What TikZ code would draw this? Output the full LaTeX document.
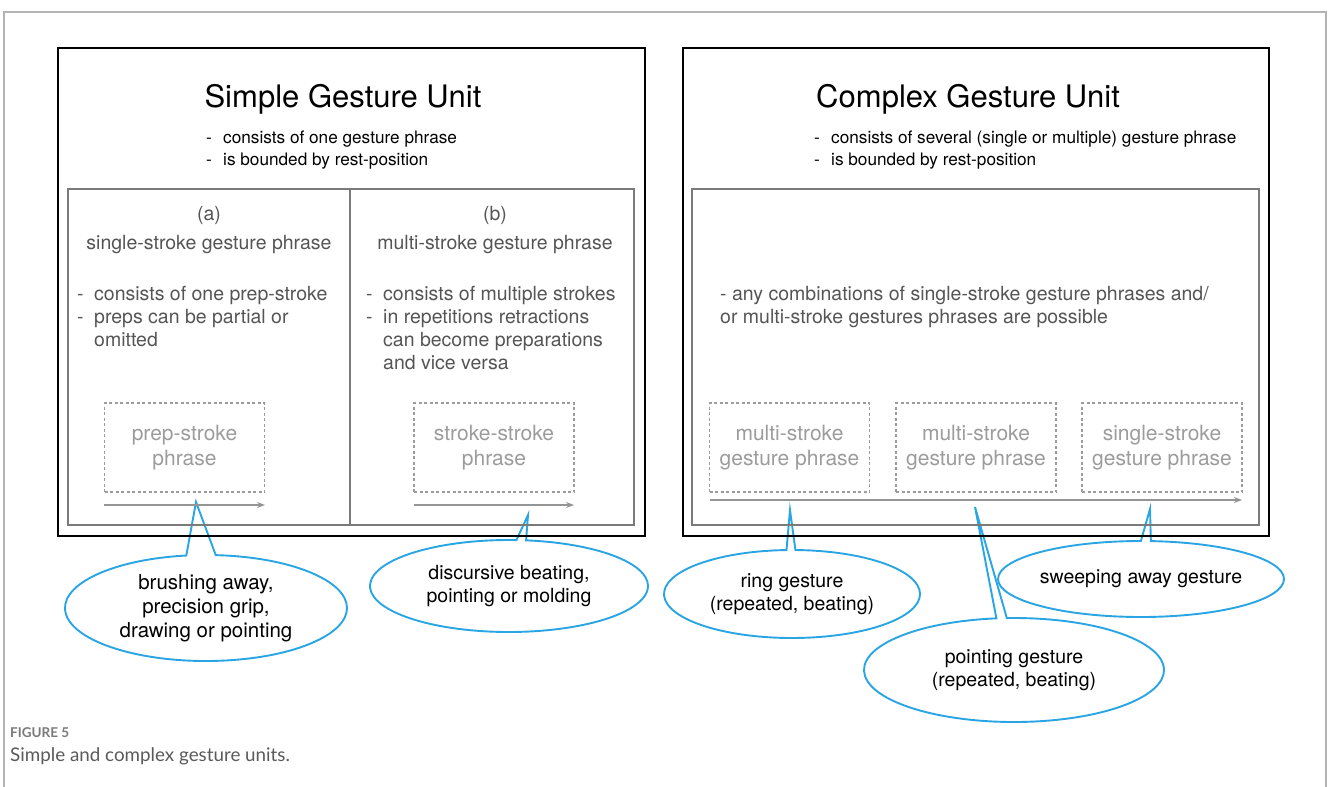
\documentclass[tikz,border=0pt]{standalone}
\usepackage{fontspec}
\setmainfont{TeX Gyre Heros}
\newfontfamily\capfont{Lato}
\usetikzlibrary{shapes.callouts,shapes.geometric,arrows.meta}
\definecolor{cblue}{HTML}{2AA5E4}
\definecolor{txtgray}{HTML}{555555}
\definecolor{dgray}{HTML}{9C9C9C}
\definecolor{boxgray}{HTML}{7A7A7A}
\definecolor{framegray}{HTML}{B4B4B4}
\definecolor{capgray}{HTML}{7A7A7A}
\definecolor{capdark}{HTML}{5A5A5A}
\tikzset{
  titletxt/.style={font=\fontsize{31}{36}\selectfont, anchor=base, inner sep=0pt},
  btxt/.style={font=\fontsize{17.2}{22}\selectfont, anchor=base west, inner sep=0pt},
  ctxt/.style={font=\fontsize{19.5}{23}\selectfont, anchor=base, inner sep=0pt, text=txtgray},
  gtxt/.style={font=\fontsize{19.5}{23}\selectfont, anchor=base west, inner sep=0pt, text=txtgray},
  dbox/.style={draw=dgray, dash pattern=on 3pt off 2.5pt, line width=1.6pt,
    minimum width=160pt, minimum height=89pt, align=center, text=dgray,
    font=\fontsize{21}{25}\selectfont},
  tline/.style={draw=boxgray!80, line width=1.4pt, -{Stealth[length=8pt,width=6pt]}},
  unitbox/.style={draw=black, line width=2pt},
  innerbox/.style={draw=boxgray, line width=1.8pt},
  bubble/.style={ellipse callout, draw=cblue, line width=1.9pt, fill=white,
    align=center, font=\fontsize{19.5}{23.5}\selectfont, inner sep=0pt,
    callout pointer arc=4},
}
\newcommand{\dsh}{\makebox[17pt][l]{-}}
\newcommand{\gdsh}{\makebox[17pt][l]{-}}
\begin{document}
\begin{tikzpicture}[x=1pt,y=-1pt]
\useasboundingbox (0,0) rectangle (1328,787);
\fill[white] (0,0) rectangle (1328,787);
% outer frame
\draw[framegray, line width=1.2pt] (4,787) -- (4,12) -- (1326,12) -- (1326,787);

% pointer tips
\coordinate (tip1) at (196,502);
\coordinate (tip2) at (528,515);
\coordinate (tip3) at (790,510);
\coordinate (tip4) at (1150,509);
\coordinate (tip5) at (975,507);

% callouts
\node[bubble, callout pointer arc=12, callout absolute pointer={(tip1)},
  minimum width=282pt, minimum height=106pt, font=\fontsize{20.5}{24}\selectfont] (c1) at (206,608)
  {brushing away,\\precision grip,\\drawing or pointing};
\node[bubble, callout absolute pointer={(tip2)},
  minimum width=278pt, minimum height=92pt] (c2) at (509,586)
  {discursive beating,\\pointing or molding};
\node[bubble, callout absolute pointer={(tip3)},
  minimum width=256pt, minimum height=88pt] (c3) at (792,594)
  {ring gesture\\(repeated, beating)};
\node[bubble, callout absolute pointer={(tip4)},
  minimum width=266pt, minimum height=76pt] (c4) at (1141,579)
  {sweeping away gesture};
\node[bubble, callout absolute pointer={(tip5)},
  minimum width=300pt, minimum height=104pt] (c5) at (1014,670)
  {pointing gesture\\(repeated, beating)};

% unit boxes
\draw[unitbox] (58,48) rectangle (645,536);
\draw[unitbox] (683,48) rectangle (1269,536);
\draw[innerbox] (68,189) rectangle (634,525);
\draw[innerbox] (350,189) -- (350,525);
\draw[innerbox] (692,189) rectangle (1259,525);

% Simple gesture unit
\node[titletxt] (t1) at (343,107) {Simple Gesture Unit};
\node[btxt] (s1) at (206,143) {\dsh consists of one gesture phrase};
\node[btxt] (s2) at (206,165) {\dsh is bounded by rest-position};

\node[ctxt] (a0) at (209,220) {(a)};
\node[ctxt] (a1) at (209,249) {single-stroke gesture phrase};
\node[gtxt] (a2) at (77,300) {\gdsh consists of one prep-stroke};
\node[gtxt] (a3) at (77,323) {\gdsh preps can be partial or};
\node[gtxt] (a4) at (77,346) {\hspace*{17pt}omitted};

\node[ctxt] (b0) at (495,220) {(b)};
\node[ctxt] (b1) at (495,249) {multi-stroke gesture phrase};
\node[gtxt] (b2) at (366,300) {\gdsh consists of multiple strokes};
\node[gtxt] (b3) at (366,323) {\gdsh in repetitions retractions};
\node[gtxt] (b4) at (366,346) {\hspace*{17pt}can become preparations};
\node[gtxt] (b5) at (366,369) {\hspace*{17pt}and vice versa};

\node[dbox] (pa) at (184.5,447.5) {\raisebox{-2pt}{prep-stroke}\\\raisebox{-2pt}{phrase}};
\node[dbox] (pb) at (494,447.5) {\raisebox{-2pt}{stroke-stroke}\\\raisebox{-2pt}{phrase}};
\coordinate (la0) at (104,505); \coordinate (la1) at (265,505);
\coordinate (lb0) at (414,505); \coordinate (lb1) at (574,505);
\draw[tline] (la0) -- (la1);
\draw[tline] (lb0) -- (lb1);

% Complex gesture unit
\node[titletxt] (t2) at (968,107) {Complex Gesture Unit};
\node[btxt] (r1) at (814,143) {\dsh consists of several (single or multiple) gesture phrase};
\node[btxt] (r2) at (814,165) {\dsh is bounded by rest-position};
\node[gtxt] (r3) at (720,300) {- any combinations of single-stroke gesture phrases and/};
\node[gtxt] (r4) at (720,323) {or multi-stroke gestures phrases are possible};

\node[dbox] (p1) at (789.5,447.5) {\raisebox{-2pt}{multi-stroke}\\\raisebox{-2pt}{gesture phrase}};
\node[dbox] (p2) at (976,447.5) {\raisebox{-2pt}{multi-stroke}\\\raisebox{-2pt}{gesture phrase}};
\node[dbox] (p3) at (1162,447.5) {\raisebox{-2pt}{single-stroke}\\\raisebox{-2pt}{gesture phrase}};
\coordinate (lc0) at (710,500); \coordinate (lc1) at (1242,500);
\draw[tline] (lc0) -- (lc1);

% caption
\node[anchor=base west, inner sep=0pt, text=capgray, font=\capfont\bfseries\fontsize{13.5}{16}\selectfont] (f1) at (10,737) {FIGURE 5};
\node[anchor=base west, inner sep=0pt, text=capdark, font=\capfont\fontsize{18.8}{21}\selectfont] (f2) at (10,761) {Simple and complex gesture units.};
\end{tikzpicture}
\end{document}
